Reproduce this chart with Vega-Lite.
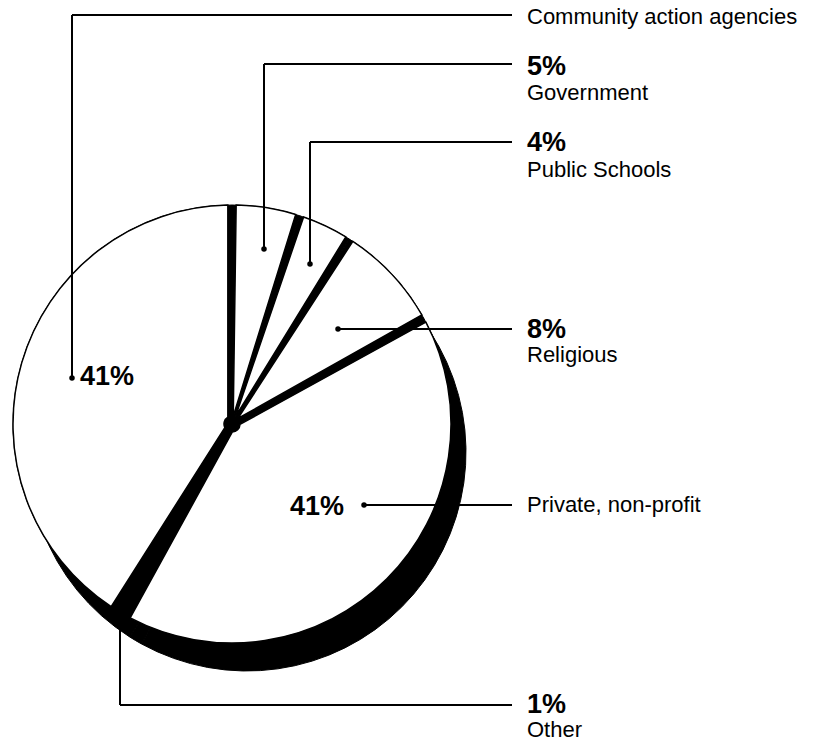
{
  "$schema": "https://vega.github.io/schema/vega-lite/v6.json",
  "width": 824,
  "height": 747,
  "autosize": {"type": "fit", "contains": "padding"},
  "padding": 0,
  "background": "white",
  "config": {"view": {"stroke": null}},
  "datasets": {
    "slices": [
      {"category": "Government", "share": 5, "rank": 1},
      {"category": "Public Schools", "share": 4, "rank": 2},
      {"category": "Religious", "share": 8, "rank": 3},
      {"category": "Private, non-profit", "share": 41, "rank": 4},
      {"category": "Other", "share": 1, "rank": 5},
      {"category": "Community action agencies", "share": 41, "rank": 6}
    ],
    "leaders": [
      {"category": "Community action agencies", "xa": -160, "ya": 46, "xb": -160, "yb": 409},
      {"category": "Community action agencies", "xa": -160, "ya": 409, "xb": 280, "yb": 409},
      {"category": "Government", "xa": 32, "ya": 175, "xb": 32, "yb": 360},
      {"category": "Government", "xa": 32, "ya": 360, "xb": 280, "yb": 360},
      {"category": "Public Schools", "xa": 78, "ya": 160, "xb": 78, "yb": 282},
      {"category": "Public Schools", "xa": 78, "ya": 282, "xb": 280, "yb": 282},
      {"category": "Religious", "xa": 106, "ya": 95, "xb": 280, "yb": 95},
      {"category": "Private, non-profit", "xa": 132, "ya": -81, "xb": 280, "yb": -81},
      {"category": "Other", "xa": -112, "ya": -191, "xb": -112, "yb": -281},
      {"category": "Other", "xa": -112, "ya": -281, "xb": 280, "yb": -281}
    ],
    "dots": [
      {"category": "Community action agencies", "xd": -160, "yd": 46},
      {"category": "Government", "xd": 32, "yd": 175},
      {"category": "Public Schools", "xd": 78, "yd": 160},
      {"category": "Religious", "xd": 106, "yd": 95},
      {"category": "Private, non-profit", "xd": 132, "yd": -81}
    ],
    "names": [
      {"label": "Community action agencies", "xt": 295, "yt": 407},
      {"label": "Government", "xt": 295, "yt": 331},
      {"label": "Public Schools", "xt": 295, "yt": 254},
      {"label": "Religious", "xt": 295, "yt": 69},
      {"label": "Private, non-profit", "xt": 295, "yt": -81},
      {"label": "Other", "xt": 295, "yt": -306}
    ],
    "pcts": [
      {"label": "5%", "xt": 295, "yt": 357},
      {"label": "4%", "xt": 295, "yt": 281},
      {"label": "8%", "xt": 295, "yt": 94},
      {"label": "1%", "xt": 295, "yt": -281},
      {"label": "41%", "xt": -152, "yt": 47},
      {"label": "41%", "xt": 58, "yt": -83}
    ]
  },
  "layer": [
    {
      "data": {"name": "slices"},
      "mark": {"type": "arc", "outerRadius": 219, "fill": "black", "stroke": "black", "strokeWidth": 1},
      "encoding": {
        "theta": {"field": "share", "type": "quantitative", "stack": true},
        "order": {"field": "rank", "type": "quantitative"},
        "detail": {"field": "category"},
        "x": {"datum": 15, "type": "quantitative", "scale": {"domain": [-232, 592], "nice": false, "zero": false}, "axis": null},
        "y": {"datum": -28, "type": "quantitative", "scale": {"domain": [-323, 424], "nice": false, "zero": false}, "axis": null}
      }
    },
    {
      "data": {"name": "slices"},
      "mark": {"type": "arc", "outerRadius": 219, "fill": "black", "stroke": "black", "strokeWidth": 1},
      "encoding": {
        "theta": {"field": "share", "type": "quantitative", "stack": true},
        "order": {"field": "rank", "type": "quantitative"},
        "detail": {"field": "category"},
        "x": {"datum": 0, "type": "quantitative"},
        "y": {"datum": 0, "type": "quantitative"}
      }
    },
    {
      "data": {"name": "slices"},
      "mark": {"type": "arc", "outerRadius": 219, "innerRadius": 8, "padAngle": 0.038, "stroke": "black", "strokeWidth": 1.5},
      "encoding": {
        "theta": {"field": "share", "type": "quantitative", "stack": true},
        "order": {"field": "rank", "type": "quantitative"},
        "detail": {"field": "category"},
        "x": {"datum": 0, "type": "quantitative"},
        "y": {"datum": 0, "type": "quantitative"},
        "fill": {"condition": {"test": "datum.category === 'Other'", "value": "black"}, "value": "white"}
      }
    },
    {
      "data": {"name": "leaders"},
      "mark": {"type": "rule", "color": "black", "strokeWidth": 2},
      "encoding": {
        "x": {"field": "xa", "type": "quantitative"},
        "y": {"field": "ya", "type": "quantitative"},
        "x2": {"field": "xb"},
        "y2": {"field": "yb"}
      }
    },
    {
      "data": {"name": "dots"},
      "mark": {"type": "point", "filled": true, "color": "black", "size": 30, "opacity": 1},
      "encoding": {
        "x": {"field": "xd", "type": "quantitative"},
        "y": {"field": "yd", "type": "quantitative"}
      }
    },
    {
      "data": {"name": "names"},
      "mark": {"type": "text", "align": "left", "baseline": "middle", "font": "Liberation Sans", "fontSize": 22, "color": "black"},
      "encoding": {
        "x": {"field": "xt", "type": "quantitative"},
        "y": {"field": "yt", "type": "quantitative"},
        "text": {"field": "label"}
      }
    },
    {
      "data": {"name": "pcts"},
      "mark": {"type": "text", "align": "left", "baseline": "middle", "font": "Liberation Sans", "fontSize": 27, "fontWeight": "bold", "color": "black"},
      "encoding": {
        "x": {"field": "xt", "type": "quantitative"},
        "y": {"field": "yt", "type": "quantitative"},
        "text": {"field": "label"}
      }
    }
  ]
}
